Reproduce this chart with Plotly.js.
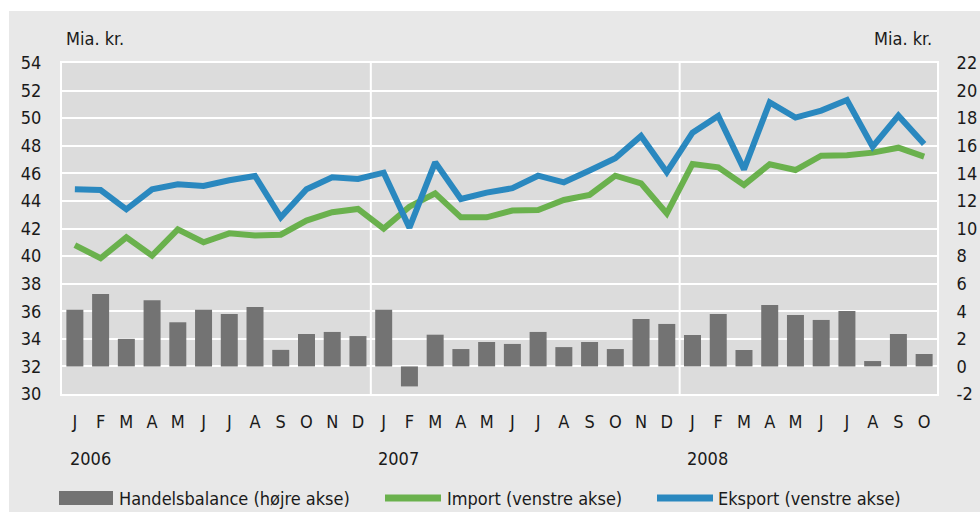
<!DOCTYPE html>
<html>
<head>
<meta charset="utf-8">
<script src="https://cdn.plot.ly/plotly-3.0.1.min.js"></script>
<style>
  html, body { margin: 0; padding: 0; background: #ffffff; }
  #panel { position: absolute; left: 9px; top: 11px; width: 971px; height: 501px; background: #e8e8e8; }
  #chart { position: absolute; left: 0; top: 0; width: 980px; height: 512px; }
</style>
</head>
<body>
<div id="panel"></div>
<div id="chart"></div>
<script>
// ---- Data ----
var months = ['J','F','M','A','M','J','J','A','S','O','N','D',
              'J','F','M','A','M','J','J','A','S','O','N','D',
              'J','F','M','A','M','J','J','A','S','O'];
var years = ['2006', '2007', '2008'];
var yearStartIndex = [0, 12, 24];

var handelsbalance = [4.1, 5.25, 2.0, 4.8, 3.2, 4.1, 3.8, 4.3, 1.2, 2.35, 2.5, 2.2,
                      4.1, -1.45, 2.3, 1.26, 1.77, 1.63, 2.5, 1.4, 1.77, 1.26, 3.44, 3.08,
                      2.28, 3.8, 1.19, 4.45, 3.73, 3.37, 4.02, 0.39, 2.35, 0.9];
var importVals = [40.8, 39.84, 41.36, 40.03, 41.94, 41.0, 41.65, 41.5, 41.55, 42.57, 43.18, 43.42,
                  41.99, 43.58, 44.55, 42.81, 42.81, 43.3, 43.34, 44.07, 44.43, 45.83, 45.28, 43.1,
                  46.68, 46.44, 45.16, 46.66, 46.24, 47.28, 47.31, 47.5, 47.86, 47.21];
var eksportVals = [44.84, 44.79, 43.39, 44.84, 45.2, 45.08, 45.5, 45.81, 42.81, 44.84, 45.71, 45.59,
                   46.05, 42.06, 46.8, 44.14, 44.6, 44.92, 45.83, 45.35, 46.2, 47.09, 48.71, 46.08,
                   48.95, 50.16, 46.29, 51.15, 50.04, 50.55, 51.32, 47.93, 50.18, 48.13];
var seriesNames = ['Handelsbalance (højre akse)', 'Import (venstre akse)', 'Eksport (venstre akse)'];
var unitLabel = 'Mia. kr.';
var leftTicks = [30,32,34,36,38,40,42,44,46,48,50,52,54];
var rightTicks = [-2,0,2,4,6,8,10,12,14,16,18,20,22];

// ---- Build ----
var xIdx = months.map(function (_, i) { return i; });
var FONT = '"DejaVu Sans Condensed", "Liberation Sans Narrow", "Liberation Sans", sans-serif';
var FS = 18;
var TXT = '#1a1a1a';
var BAR = '#737373', GREEN = '#6ab14d', BLUE = '#2a88bf';

var traces = [
  { type: 'bar', x: xIdx, y: handelsbalance, yaxis: 'y2', name: seriesNames[0],
    marker: { color: BAR }, width: 0.66, base: 0 },
  { type: 'scatter', mode: 'lines', x: xIdx, y: importVals, name: seriesNames[1],
    line: { color: GREEN, width: 6 } },
  { type: 'scatter', mode: 'lines', x: xIdx, y: eksportVals, name: seriesNames[2],
    line: { color: BLUE, width: 6 } }
];

// geometry in pixels for paper conversions
var L = 62, R = 937, T = 63, B = 394;
function px(xp) { return (xp - L) / (R - L); }
function py(yp) { return (B - yp) / (B - T); }

var shapes = [];
[11.5, 23.5].forEach(function (xv) {
  shapes.push({ type: 'line', xref: 'x', yref: 'paper', x0: xv, x1: xv, y0: 0, y1: 1,
    line: { color: '#ffffff', width: 2 }, layer: 'below' });
});
shapes.push({ type: 'rect', xref: 'paper', yref: 'paper', x0: px(59), x1: px(113), y0: py(505), y1: py(491),
  fillcolor: BAR, line: { width: 0 } });
shapes.push({ type: 'line', xref: 'paper', yref: 'paper', x0: px(385), x1: px(441), y0: py(498), y1: py(498),
  line: { color: GREEN, width: 7 } });
shapes.push({ type: 'line', xref: 'paper', yref: 'paper', x0: px(657), x1: px(713), y0: py(498), y1: py(498),
  line: { color: BLUE, width: 7 } });

function txt(x, y, xa, s, xref) {
  return { xref: xref || 'paper', yref: 'paper', x: x, y: y, xanchor: xa, yanchor: 'middle',
    text: s, showarrow: false, font: { family: FONT, size: FS, color: TXT } };
}
var annotations = [
  txt(px(64), py(38), 'left', unitLabel),
  txt(px(934), py(38), 'right', unitLabel),
  txt(px(117), py(498), 'left', seriesNames[0]),
  txt(px(445), py(498), 'left', seriesNames[1]),
  txt(px(716), py(498), 'left', seriesNames[2])
];
years.forEach(function (yr, k) {
  annotations.push(txt(yearStartIndex[k] - 0.28, py(458), 'left', yr, 'x'));
});

var layout = {
  width: 980, height: 512,
  margin: { l: L, r: 980 - R, t: T, b: 512 - B, pad: 0 },
  paper_bgcolor: 'rgba(0,0,0,0)',
  plot_bgcolor: '#dcdcdc',
  showlegend: false,
  font: { family: FONT, size: FS, color: TXT },
  xaxis: {
    range: [-0.5, months.length - 0.5],
    tickmode: 'array', tickvals: xIdx, ticktext: months,
    showgrid: false, zeroline: false,
    showline: true, linecolor: '#ffffff', linewidth: 2, mirror: true,
    ticks: 'outside', ticklen: 10, tickcolor: 'rgba(0,0,0,0)',
    tickfont: { family: FONT, size: FS, color: TXT }
  },
  yaxis: {
    range: [30, 54], tickmode: 'array', tickvals: leftTicks, ticktext: leftTicks.map(String),
    showgrid: true, gridcolor: '#ffffff', gridwidth: 2, zeroline: false,
    showline: true, linecolor: '#ffffff', linewidth: 2, mirror: true,
    ticks: 'outside', ticklen: 15, tickcolor: 'rgba(0,0,0,0)',
    tickfont: { family: FONT, size: FS, color: TXT }
  },
  yaxis2: {
    range: [-2, 22], overlaying: 'y', side: 'right', tickmode: 'array',
    tickvals: rightTicks, ticktext: rightTicks.map(String),
    showgrid: false, zeroline: false, showline: false,
    ticks: 'outside', ticklen: 15, tickcolor: 'rgba(0,0,0,0)',
    tickfont: { family: FONT, size: FS, color: TXT }
  },
  shapes: shapes,
  annotations: annotations
};

Plotly.newPlot('chart', traces, layout, { displayModeBar: false, staticPlot: true });
</script>
</body>
</html>
